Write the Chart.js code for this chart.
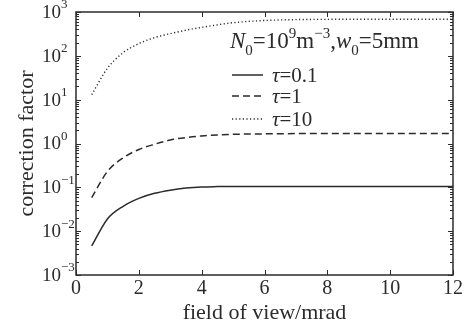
<!DOCTYPE html>
<html>
<head>
<meta charset="utf-8">
<script src="https://cdn.jsdelivr.net/npm/chart.js@4/dist/chart.umd.min.js"></script>
<style>
  body { margin: 0; background: #fff; }
  #wrap { width: 465px; height: 329px; }
</style>
</head>
<body>
<div id="wrap"><canvas id="chart"></canvas></div>
<script>
// field of view (mrad)
var fov    = [0.5, 1, 1.5, 2, 2.5, 3, 3.5, 4, 4.5, 5, 6, 7, 8, 9, 10, 11, 12];
// correction factor for each optical thickness
var tau01  = [0.0046, 0.019, 0.037, 0.056, 0.073, 0.086, 0.096, 0.102, 0.104, 0.105, 0.105, 0.105, 0.105, 0.105, 0.105, 0.105, 0.105];
var tau1   = [0.058, 0.23, 0.47, 0.73, 0.96, 1.2, 1.37, 1.49, 1.57, 1.62, 1.66, 1.68, 1.68, 1.68, 1.68, 1.68, 1.68];
var tau10  = [13, 52, 118, 190, 260, 320, 385, 445, 510, 570, 640, 670, 680, 685, 685, 685, 685];
var seriesNames = ['\u03C4=0.1', '\u03C4=1', '\u03C4=10'];
var xTicks = [0, 2, 4, 6, 8, 10, 12];
var yExponents = [-3, -2, -1, 0, 1, 2, 3];

var ink = '#2b2b2b';
var serif = "'Liberation Serif', 'Times New Roman', serif";

function pts(ys) {
  return fov.map(function (x, i) { return { x: x, y: ys[i] }; });
}

var styles = [
  { dash: [], width: 1.5 },
  { dash: [7, 4], width: 1.5 },
  { dash: [1.2, 2.4], width: 1.4 }
];

var frame = {
  id: 'frame',
  afterDraw: function (chart) {
    var ctx = chart.ctx, a = chart.chartArea;
    var xs = chart.scales.x, ys = chart.scales.y;
    ctx.save();
    ctx.strokeStyle = ink;
    ctx.lineWidth = 1.5;
    ctx.strokeRect(a.left, a.top, a.right - a.left, a.bottom - a.top);
    ctx.lineWidth = 1;
    // x ticks inward, top and bottom
    xTicks.forEach(function (t) {
      var px = Math.round(xs.getPixelForValue(t)) + 0.5;
      ctx.beginPath();
      ctx.moveTo(px, a.bottom); ctx.lineTo(px, a.bottom - 5);
      ctx.moveTo(px, a.top); ctx.lineTo(px, a.top + 5);
      ctx.stroke();
    });
    // y ticks inward, major and minor, left and right
    yExponents.forEach(function (e) {
      for (var m = 1; m <= 9; m++) {
        if (e === 3 && m > 1) break;
        var py = Math.round(ys.getPixelForValue(m * Math.pow(10, e))) + 0.5;
        var len = m === 1 ? 5 : 3;
        ctx.beginPath();
        ctx.moveTo(a.left, py); ctx.lineTo(a.left + len, py);
        ctx.moveTo(a.right, py); ctx.lineTo(a.right - len, py);
        ctx.stroke();
      }
    });
    // y tick labels 10^n
    ctx.fillStyle = ink;
    ctx.textBaseline = 'middle';
    yExponents.forEach(function (e) {
      var py = ys.getPixelForValue(Math.pow(10, e));
      ctx.font = '19px ' + serif;
      ctx.textAlign = 'right';
      ctx.fillText('10', a.left - 15, py + 1);
      ctx.font = '13px ' + serif;
      ctx.textAlign = 'left';
      ctx.fillText(e < 0 ? '\u2212' + (-e) : String(e), a.left - 15, py - 7);
    });

    // annotation N0=10^9 m^-3, w0=5mm
    var x = 230, base = 48;
    ctx.textBaseline = 'alphabetic';
    ctx.textAlign = 'left';
    function run(txt, size, italic, dy) {
      ctx.font = (italic ? 'italic ' : '') + size + 'px ' + serif;
      ctx.fillText(txt, x, base + dy);
      x += ctx.measureText(txt).width;
    }
    run('N', 23, true, 0);
    run('0', 15, false, 7);
    run('=10', 23, false, 0);
    run('9', 15, false, -10);
    run('m', 23, false, 0);
    run('\u22123', 15, false, -10);
    run(',', 23, false, 0);
    run('w', 23, true, 0);
    run('0', 15, false, 7);
    run('=5mm', 23, false, 0);

    // legend
    var rows = [75, 96, 119];
    seriesNames.forEach(function (name, i) {
      var y = rows[i];
      ctx.strokeStyle = ink;
      ctx.lineWidth = styles[i].width;
      ctx.setLineDash(styles[i].dash);
      ctx.beginPath();
      ctx.moveTo(232, y); ctx.lineTo(263, y);
      ctx.stroke();
      ctx.setLineDash([]);
      ctx.textBaseline = 'middle';
      var tx = 272;
      ctx.font = 'italic 21px ' + serif;
      ctx.fillText(name.charAt(0), tx, y + 1);
      tx += ctx.measureText(name.charAt(0)).width;
      ctx.font = '21px ' + serif;
      ctx.fillText(name.slice(1), tx, y + 1);
    });
    ctx.restore();
  }
};

new Chart(document.getElementById('chart'), {
  type: 'line',
  data: {
    datasets: [tau01, tau1, tau10].map(function (ys, i) {
      return {
        label: seriesNames[i],
        data: pts(ys),
        borderColor: ink,
        borderWidth: styles[i].width,
        borderDash: styles[i].dash,
        pointRadius: 0,
        fill: false,
        cubicInterpolationMode: 'monotone'
      };
    })
  },
  options: {
    responsive: true,
    maintainAspectRatio: false,
    animation: false,
    layout: { padding: { top: 12, right: 12, left: 0, bottom: 0 } },
    plugins: { legend: { display: false }, tooltip: { enabled: false } },
    scales: {
      x: {
        type: 'linear',
        min: 0, max: 12,
        afterBuildTicks: function (s) { s.ticks = xTicks.map(function (v) { return { value: v }; }); },
        grid: { display: false, drawTicks: false },
        border: { display: false },
        ticks: { color: ink, font: { family: serif, size: 20 }, padding: 2, maxRotation: 0 },
        title: { display: true, text: 'field of view/mrad', color: ink, font: { family: serif, size: 22 }, padding: { top: 0, bottom: 3 } },
        afterFit: function (s) { s.height = 54; }
      },
      y: {
        type: 'logarithmic',
        min: 0.001, max: 1000,
        grid: { display: false, drawTicks: false },
        border: { display: false },
        ticks: { display: false },
        title: { display: true, text: 'correction factor', color: ink, font: { family: serif, size: 22 }, padding: { top: 14, bottom: 0 } },
        afterFit: function (s) { s.width = 76; }
      }
    }
  },
  plugins: [frame]
});
</script>
</body>
</html>
